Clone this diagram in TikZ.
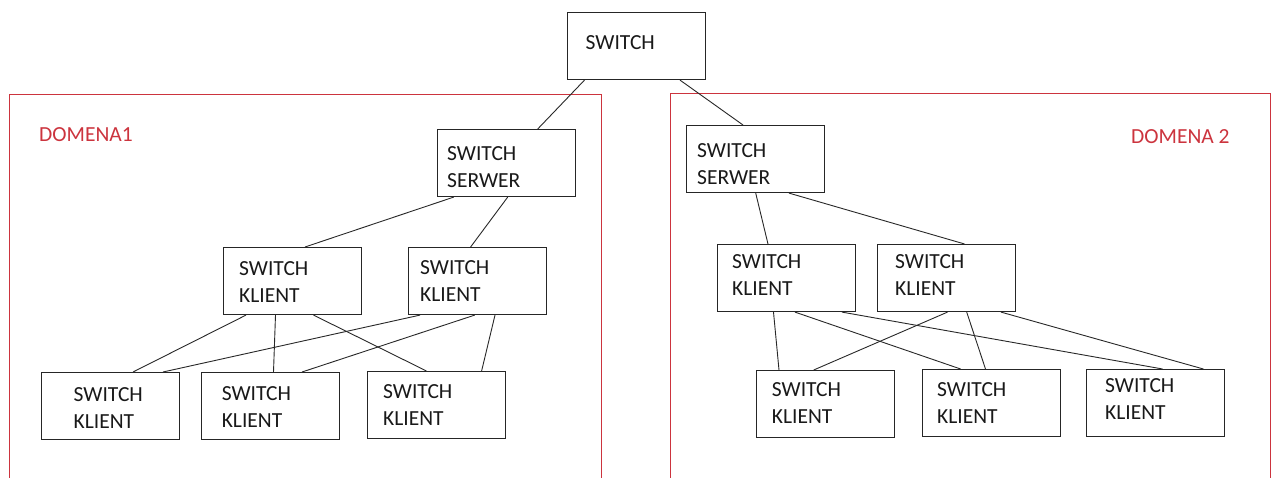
\documentclass[tikz,border=0pt]{standalone}
\usepackage{fontspec}
\setmainfont{Carlito}
\usetikzlibrary{calc}
\definecolor{domainred}{RGB}{204,52,62}
\definecolor{linkgray}{RGB}{40,40,40}
\begin{document}
\begin{tikzpicture}[x=1pt, y=-1pt,
  switchbox/.style={draw=black!85, line width=1.1pt, minimum width=138pt,
    minimum height=67pt, inner sep=0pt, anchor=north west},
  swtext/.style={anchor=west, inner sep=0pt, align=left,
    font=\fontsize{21.5}{27}\selectfont, text=black!90},
  domtext/.style={anchor=west, inner sep=0pt,
    font=\fontsize{21.5}{27}\selectfont, text=domainred},
  link/.style={line width=0.9pt, draw=linkgray},
  domframe/.style={draw=domainred, line width=0.9pt}]

\fill[white] (0,0) rectangle (1272,477);
\useasboundingbox (0,0) rectangle (1272,477);
\clip (0,0) rectangle (1272,477);

% domain frames (open towards the bottom edge)
\draw[domframe] (9,94) rectangle (601,500);
\draw[domframe] (670,93) rectangle (1270,500);
\node[domtext] (dom1) at (39,134.7) {DOMENA1};
\node[domtext] (dom2) at (1131,137) {DOMENA 2};

% switches
\node[switchbox] (top) at (566.5,12) {};
\node[switchbox] (s1)  at (436.7,129) {};
\node[switchbox] (s2)  at (686,125) {};
\node[switchbox] (k1a) at (223,247) {};
\node[switchbox] (k1b) at (408,247) {};
\node[switchbox] (b1a) at (41,372) {};
\node[switchbox] (b1b) at (201,372) {};
\node[switchbox] (b1c) at (367,371) {};
\node[switchbox] (k2a) at (716.5,244) {};
\node[switchbox] (k2b) at (877,244) {};
\node[switchbox] (b2a) at (755.7,370) {};
\node[switchbox] (b2b) at (922,369) {};
\node[switchbox] (b2c) at (1086,369) {};

% switch captions
\node[swtext] (top-t) at ([shift={(19,-3)}]top.west) {SWITCH};
\node[swtext] (s1-t)  at ([shift={(10.3,3.8)}]s1.west) {SWITCH\\SERWER};
\node[swtext] (s2-t)  at ([shift={(11,4.7)}]s2.west) {SWITCH\\SERWER};
\node[swtext] (k1a-t) at ([shift={(16,1.2)}]k1a.west) {SWITCH\\KLIENT};
\node[swtext] (k1b-t) at ([shift={(12,0.2)}]k1b.west) {SWITCH\\KLIENT};
\node[swtext] (b1a-t) at ([shift={(32.5,1.7)}]b1a.west) {SWITCH\\KLIENT};
\node[swtext] (b1b-t) at ([shift={(20.6,1.2)}]b1b.west) {SWITCH\\KLIENT};
\node[swtext] (b1c-t) at ([shift={(16,0.3)}]b1c.west) {SWITCH\\KLIENT};
\node[swtext] (k2a-t) at ([shift={(15.5,-3.5)}]k2a.west) {SWITCH\\KLIENT};
\node[swtext] (k2b-t) at ([shift={(18,-3.5)}]k2b.west) {SWITCH\\KLIENT};
\node[swtext] (b2a-t) at ([shift={(16,-0.7)}]b2a.west) {SWITCH\\KLIENT};
\node[swtext] (b2b-t) at ([shift={(15,0.3)}]b2b.west) {SWITCH\\KLIENT};
\node[swtext] (b2c-t) at ([shift={(19,-3.7)}]b2c.west) {SWITCH\\KLIENT};

% uplinks to the core switch
\draw[link] ([xshift=18pt]top.south west) -- ([xshift=101pt]s1.north west);
\draw[link] ([xshift=113.5pt]top.south west) -- ([xshift=57pt]s2.north west);

% domain 1
\draw[link] ([xshift=17pt]s1.south west) -- ([xshift=82pt]k1a.north west);
\draw[link] ([xshift=71pt]s1.south west) -- ([xshift=62.6pt]k1b.north west);
\draw[link] ([xshift=23pt]k1a.south west) -- ([xshift=92pt]b1a.north west);
\draw[link] ([xshift=52.5pt]k1a.south west) -- ([xshift=72.5pt]b1b.north west);
\draw[link] ([xshift=90.5pt]k1a.south west) -- ([xshift=59.5pt]b1c.north west);
\draw[link] ([xshift=12pt]k1b.south west) -- ([xshift=122pt]b1a.north west);
\draw[link] ([xshift=66.7pt]k1b.south west) -- ([xshift=101pt]b1b.north west);
\draw[link] ([xshift=87pt]k1b.south west) -- ([xshift=114.6pt]b1c.north west);

% domain 2
\draw[link] ([xshift=69.7pt]s2.south west) -- ([xshift=51.5pt]k2a.north west);
\draw[link] ([xshift=103pt]s2.south west) -- ([xshift=87.6pt]k2b.north west);
\draw[link] ([xshift=57pt]k2a.south west) -- ([xshift=23.3pt]b2a.north west);
\draw[link] ([xshift=78.5pt]k2a.south west) -- ([xshift=38.6pt]b2b.north west);
\draw[link] ([xshift=125.5pt]k2a.south west) -- ([xshift=76.6pt]b2c.north west);
\draw[link] ([xshift=70.5pt]k2b.south west) -- ([xshift=58pt]b2a.north west);
\draw[link] ([xshift=89.7pt]k2b.south west) -- ([xshift=63.5pt]b2b.north west);
\draw[link] ([xshift=124pt]k2b.south west) -- ([xshift=117.4pt]b2c.north west);
\end{tikzpicture}
\end{document}
